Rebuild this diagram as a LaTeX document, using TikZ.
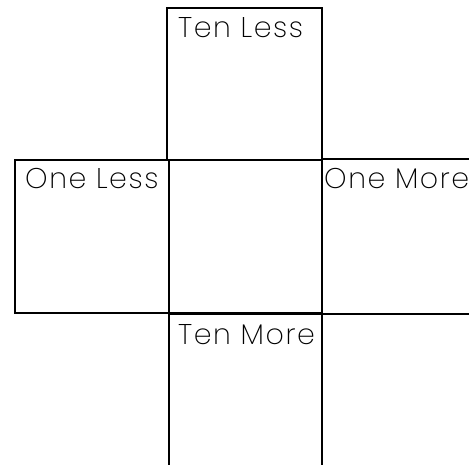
\documentclass[tikz,border=0pt]{standalone}
\usepackage{fontspec}
\setmainfont{Poppins ExtraLight}[LetterSpace=5.5]
\begin{document}
\begin{tikzpicture}[x=1pt,y=-1pt,
  box/.style={draw, line width=1.3pt, rectangle, inner sep=0pt, outer sep=0pt, anchor=north west},
  lbl/.style={anchor=base west, font=\fontsize{28.5}{31}\selectfont, inner sep=0pt}]
\useasboundingbox (0,0) rectangle (469,464);
\clip (0,0) rectangle (469,464);
\node[box, minimum width=155pt, minimum height=152pt] (top) at (167,8) {};
\node[box, minimum width=154pt, minimum height=153pt] (left) at (15,160) {};
\node[box, minimum width=153pt, minimum height=153pt] (center) at (169,160) {};
\node[box, minimum width=160pt, minimum height=155pt] (right) at (322,159) {};
\node[box, minimum width=153pt, minimum height=170pt] (bottom) at (169,314) {};
\node[lbl] (tl) at (178,37) {Ten Less};
\node[lbl] (ol) at (25,188) {One Less};
\node[lbl] (om) at (324,188) {One More};
\node[lbl] (tm) at (178,344) {Ten More};
\end{tikzpicture}
\end{document}
